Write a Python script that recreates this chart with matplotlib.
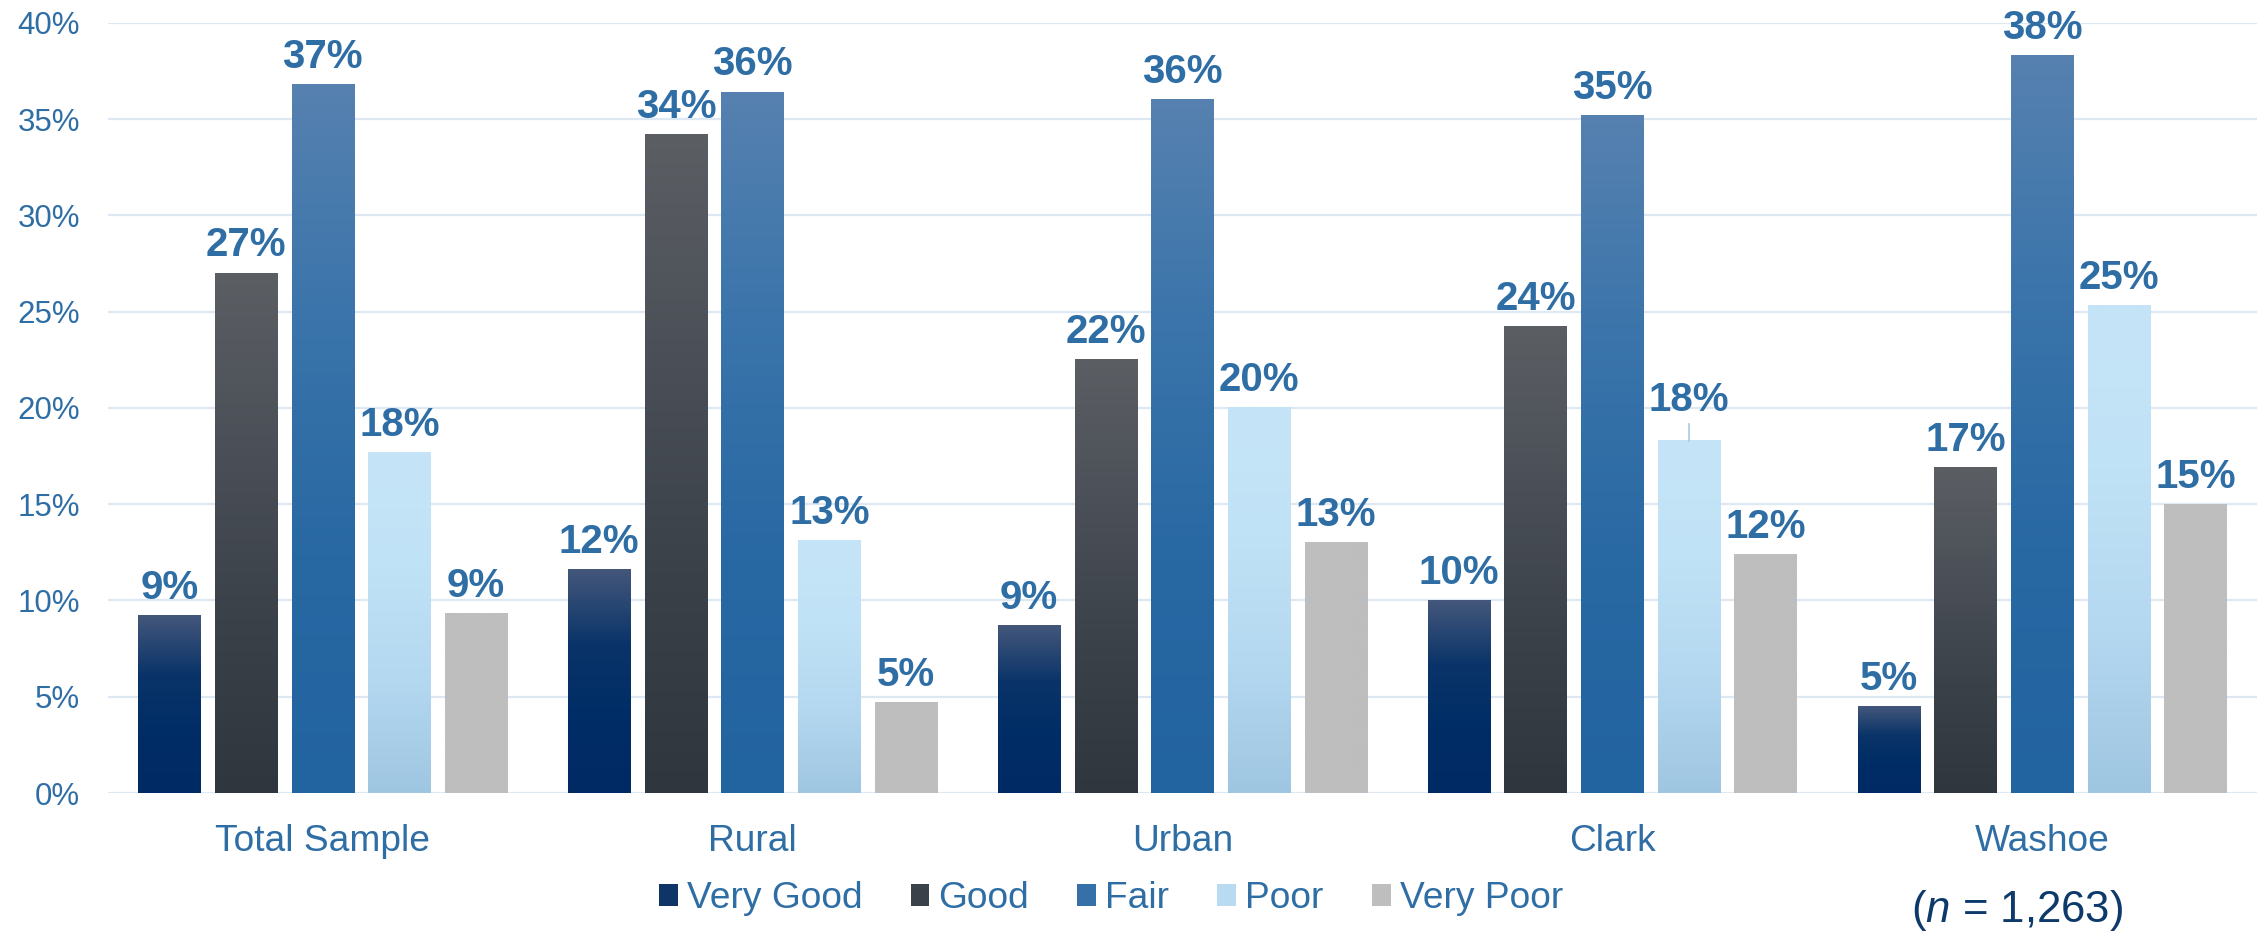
import numpy as np
import matplotlib.pyplot as plt
from matplotlib.colors import LinearSegmentedColormap
from matplotlib.patches import Patch

plt.rcParams['font.family'] = ['Liberation Sans', 'DejaVu Sans']
plt.rcParams['mathtext.fontset'] = 'custom'
plt.rcParams['mathtext.it'] = 'Liberation Sans:italic'
plt.rcParams['mathtext.rm'] = 'Liberation Sans'

# ---data
categories = ["Total Sample", "Rural", "Urban", "Clark", "Washoe"]
series = ["Very Good", "Good", "Fair", "Poor", "Very Poor"]
very_good = [9.2, 11.6, 8.7, 10.0, 4.5]
good = [27.0, 34.2, 22.5, 24.2, 16.9]
fair = [36.8, 36.4, 36.0, 35.2, 38.3]
poor = [17.7, 13.1, 20.0, 18.3, 25.3]
very_poor = [9.3, 4.7, 13.0, 12.4, 15.0]
labels = [["9%", "12%", "9%", "10%", "5%"],
          ["27%", "34%", "22%", "24%", "17%"],
          ["37%", "36%", "36%", "35%", "38%"],
          ["18%", "13%", "20%", "18%", "25%"],
          ["9%", "5%", "13%", "12%", "15%"]]
n_text = "($\\it{n}$ = 1,263)"

values = [very_good, good, fair, poor, very_poor]

# gradient stops, bottom -> top
grads = [["#002a63", "#002d66", "#0a3469", "#44577b"],
         ["#30363e", "#3b4149", "#4b5058", "#5b5e63"],
         ["#2264a0", "#2868a3", "#3a74aa", "#5681b0"],
         ["#9fc6e1", "#b4d8f0", "#c0e2f6", "#c6e4f7"],
         ["#bebebe", "#bebebe", "#bebebe", "#bebebe"]]
legend_cols = ["#0e3468", "#3b4149", "#3570a8", "#b8dbf2", "#bebebe"]

blue = "#2f6ea5"
grid_col = "#dde8f3"

fig = plt.figure(figsize=(22.67, 9.36), dpi=100)
ax = fig.add_axes([0.0476, 0.1527, 0.948, 0.823])

x = np.arange(len(categories))
step = 0.1784
width = 0.145

for i, (vals, stops) in enumerate(zip(values, grads)):
    cmap = LinearSegmentedColormap.from_list("g%d" % i, stops)
    grad = np.linspace(0, 1, 256).reshape(-1, 1)
    for j, v in enumerate(vals):
        xc = x[j] + (i - 2) * step
        ax.imshow(grad, cmap=cmap, origin="lower", aspect="auto",
                  extent=[xc - width / 2, xc + width / 2, 0, v], zorder=3,
                  interpolation="bilinear")
        lift = 12
        # the Clark "Poor" label sits higher, with a leader line
        if categories[j] == "Clark" and series[i] == "Poor":
            lift = 21
            ax.plot([xc, xc], [v, v + 0.85], color="#a9cbe6", lw=1.2, zorder=3)
        ax.annotate(labels[i][j], (xc, v), xytext=(0, lift),
                    textcoords="offset points", ha="center", va="baseline",
                    fontsize=29, fontweight="bold", color=blue, zorder=4)

ax.set_xlim(-0.5, len(categories) - 0.5)
ax.set_ylim(0, 40)
ax.set_yticks(np.arange(0, 41, 5))
ax.set_yticklabels(["%d%%" % t for t in range(0, 41, 5)])
ax.set_xticks(x)
ax.set_xticklabels(categories)
ax.yaxis.grid(True, color=grid_col, lw=1.6, zorder=0)
ax.set_axisbelow(True)
for s in ax.spines.values():
    s.set_visible(False)
ax.tick_params(axis="y", length=0, pad=20, labelsize=22.5, labelcolor=blue)
ax.tick_params(axis="x", length=0, pad=22, labelsize=26.7, labelcolor=blue)

handles = [Patch(facecolor=c, edgecolor="none") for c in legend_cols]
fig.legend(handles, series, loc="center", bbox_to_anchor=(0.490, 0.040),
           ncol=5, frameon=False, handlelength=0.51, handleheight=0.51,
           handletextpad=0.24, columnspacing=1.3, fontsize=26.7,
           labelcolor=blue)

fig.text(0.8897, 0.027, n_text, ha="center", va="center", fontsize=31.5,
         color="#0d3a6b")

fig.savefig("out.png", dpi=100)
